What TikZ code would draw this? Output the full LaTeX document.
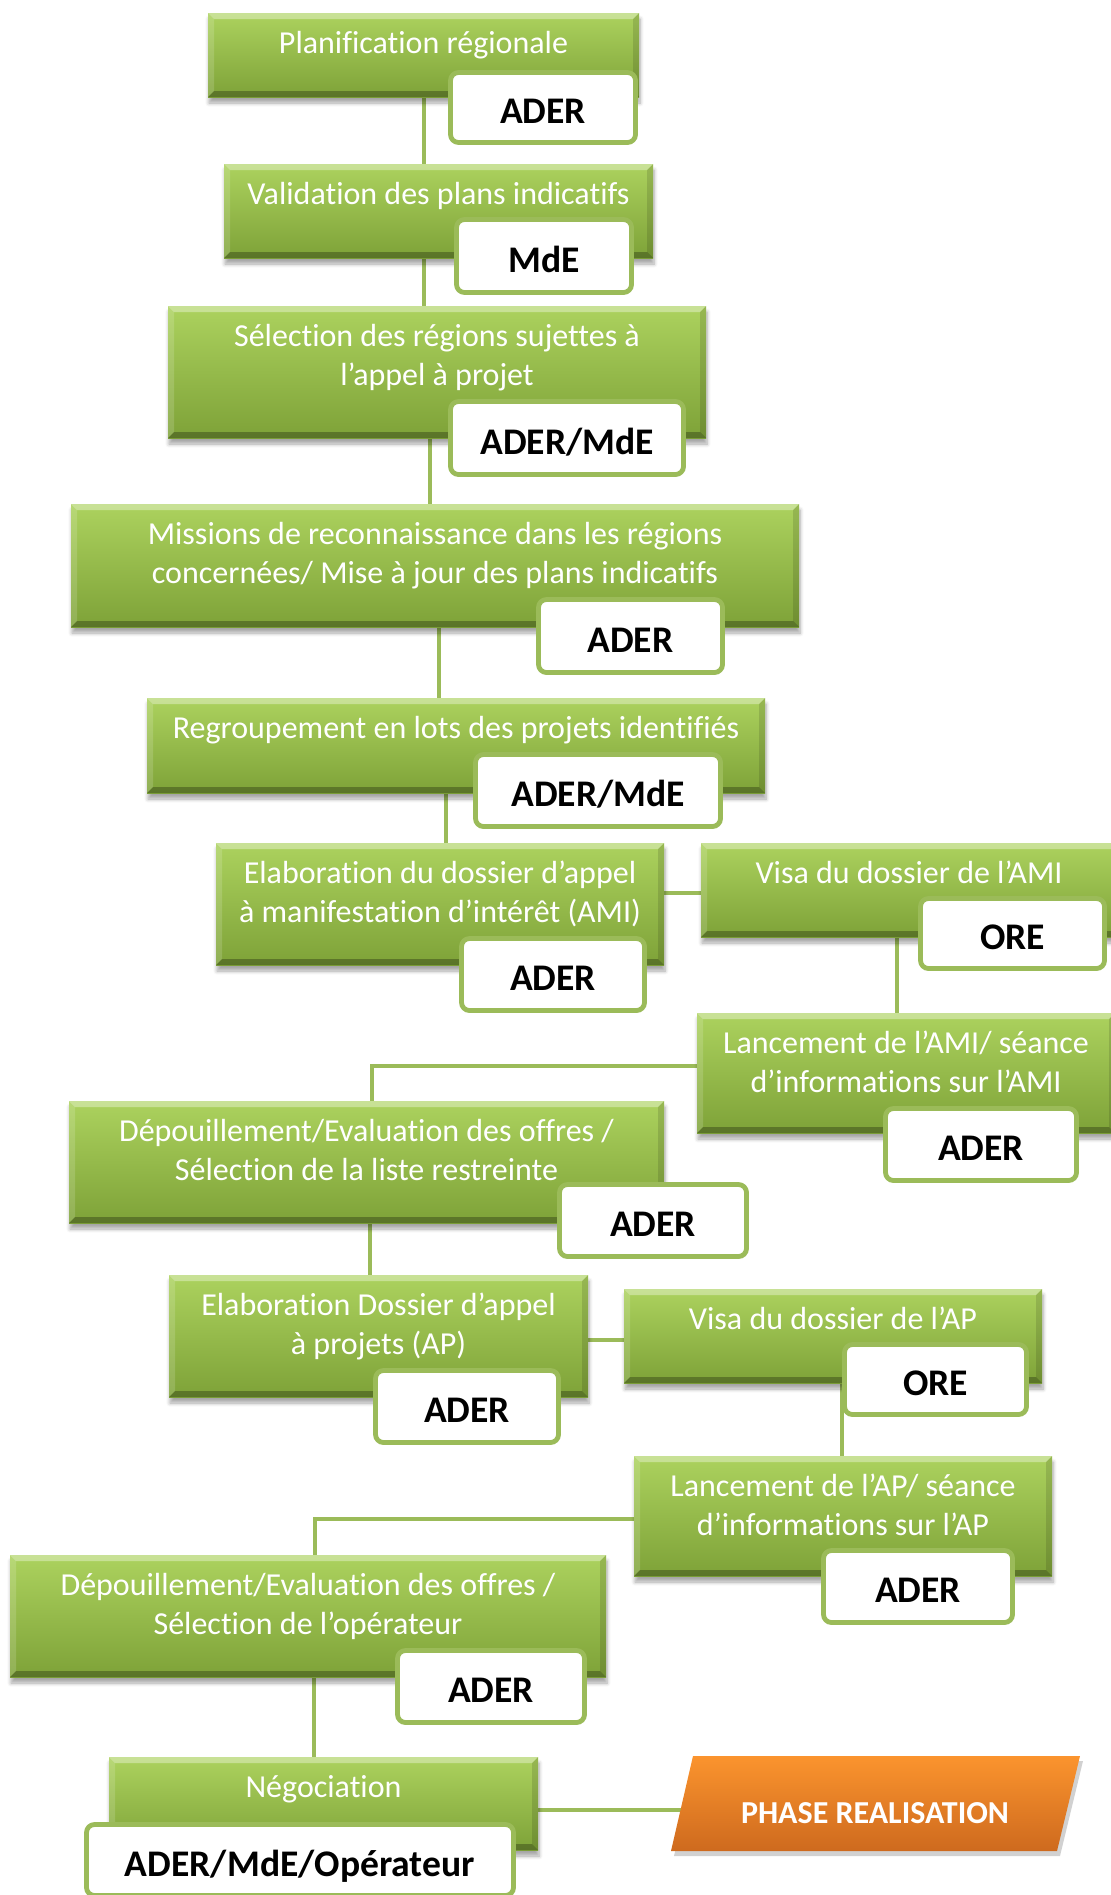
\documentclass[tikz,border=0pt]{standalone}
\usepackage{fontspec}
\setmainfont{Carlito}[Ligatures=NoCommon]
\usetikzlibrary{shadows.blur}
\definecolor{gtop}{RGB}{172,210,94}
\definecolor{gbot}{RGB}{126,162,56}
\definecolor{gline}{RGB}{155,187,89}
\definecolor{otop}{RGB}{251,148,46}
\definecolor{obot}{RGB}{206,106,30}
\pgfdeclarelayer{bg}
\pgfsetlayers{bg,main}
\tikzset{
 gbevel/.style={path picture={
  \path (path picture bounding box.north west) coordinate (pnw)
        (path picture bounding box.north east) coordinate (pne)
        (path picture bounding box.south west) coordinate (psw)
        (path picture bounding box.south east) coordinate (pse);
  \fill[white,opacity=0.35] (pnw) -- (pne) -- ([shift={(-3pt,-3pt)}]pne) -- ([shift={(3pt,-3pt)}]pnw) -- cycle;
  \fill[white,opacity=0.15] (pnw) -- ([shift={(3pt,-3pt)}]pnw) -- ([shift={(3pt,3pt)}]psw) -- (psw) -- cycle;
  \fill[black,opacity=0.12] (pne) -- ([shift={(-3pt,-3pt)}]pne) -- ([shift={(-3pt,3pt)}]pse) -- (pse) -- cycle;
  \fill[black,opacity=0.28] (psw) -- ([shift={(3pt,3pt)}]psw) -- ([shift={(-3pt,3pt)}]pse) -- (pse) -- cycle;
 }},
 gbox/.style={rectangle, inner sep=0pt, outer sep=0pt, top color=gtop, bottom color=gbot,
   blur shadow={shadow xshift=0.5pt, shadow yshift=-3pt, shadow blur steps=6, shadow opacity=35}, gbevel},
 gtext/.style={anchor=north, inner sep=0pt, align=center, text=white, font=\fontsize{16}{19.5}\selectfont},
 lab/.style={rectangle, rounded corners=4pt, draw=gline, line width=2.4pt, fill=white, inner sep=0pt,
   text height=16pt, text depth=0pt, font=\fontsize{18.8}{22}\selectfont\bfseries},
 conn/.style={draw=gline, line width=2pt}
}
\newcommand\GB[6]{%
  \node[gbox, minimum width={#4*0.5pt}, minimum height={#5*0.5pt}] (#1) at (#2,#3) {};
  \node[gtext] (#1t) at ([yshift=-6.4pt]#1.north) {#6};}
\newcommand\LB[6]{%
  \node[lab, minimum width={(#4-5)*0.5pt}, minimum height={(#5-5)*0.5pt}] (#1) at (#2,#3) {#6};}
\begin{document}
\begin{tikzpicture}[x=0.5pt,y=-0.5pt]
\useasboundingbox (0,0) rectangle (1111,1895);
\clip (0,0) rectangle (1111,1895);

\GB{b1}{423.5}{55}{431}{84}{\strut Planification régionale}
\GB{b2}{438.5}{211}{429}{94}{\strut Validation des plans indicatifs}
\GB{b3}{437}{372}{538}{132}{\strut Sélection des régions sujettes à\\\strut l’appel à projet}
\GB{b4}{435}{565.5}{728}{123}{\strut Missions de reconnaissance dans les régions\\\strut concernées/ Mise à jour des plans indicatifs}
\GB{b5}{456}{745.5}{618}{95}{\strut Regroupement en lots des projets identifiés}
\GB{b6}{440}{904}{448}{122}{\strut Elaboration du dossier d’appel\\\strut à manifestation d’intérêt (AMI)}
\GB{b7}{909}{890}{416}{94}{\strut Visa du dossier de l’AMI}
\GB{b8}{906}{1073}{418}{120}{\strut Lancement de l’AMI/ séance\\\strut d’informations sur l’AMI}
\GB{b9}{366.5}{1162}{595}{122}{\strut Dépouillement/Evaluation des offres /\\\strut Sélection de la liste restreinte}
\GB{b10}{378.5}{1336}{419}{122}{\strut Elaboration Dossier d’appel\\\strut à projets (AP)}
\GB{b11}{833}{1336}{418}{94}{\strut Visa du dossier de l’AP}
\GB{b12}{843}{1516}{418}{120}{\strut Lancement de l’AP/ séance\\\strut d’informations sur l’AP}
\GB{b13}{308}{1616}{596}{122}{\strut Dépouillement/Evaluation des offres /\\\strut Sélection de l’opérateur}
\GB{b14}{323.5}{1803.5}{429}{93}{\strut Négociation}

% phase realisation
\fill[black,opacity=0.18] (696,1761) -- (1083,1761) -- (1060,1856) -- (674,1856) -- cycle;
\shade[top color=otop, bottom color=obot] (693,1756) -- (1080,1756) -- (1057,1851) -- (671,1851) -- cycle;
\node[text=white, font=\fontsize{16}{19}\selectfont\bfseries] (phase) at (875,1813) {PHASE REALISATION};
\coordinate (phaseL) at (682,1810);

\LB{l1}{543}{107.5}{190}{75}{ADER}
\LB{l2}{544}{256}{180}{78}{MdE}
\LB{l3}{567}{438}{238}{78}{ADER/MdE}
\LB{l4}{630.5}{636}{189}{78}{ADER}
\LB{l5}{598}{790.5}{250}{77}{ADER/MdE}
\LB{l6}{553}{974.5}{188}{77}{ADER}
\LB{l7}{1012.5}{933.5}{189}{75}{ORE}
\LB{l8}{981}{1144.5}{196}{77}{ADER}
\LB{l9}{653}{1220.5}{192}{77}{ADER}
\LB{l10}{467}{1406.5}{188}{77}{ADER}
\LB{l11}{935.5}{1379.5}{187}{75}{ORE}
\LB{l12}{918}{1586.5}{194}{77}{ADER}
\LB{l13}{491}{1686.5}{192}{77}{ADER}
\LB{l14}{300}{1860}{432}{76}{ADER/MdE/Opérateur}

\coordinate (k2) at (424,0);
\coordinate (k3) at (430,0);
\coordinate (k4) at (439,0);
\coordinate (k5) at (446,0);
\coordinate (k6) at (0,893);
\coordinate (k7) at (897,0);
\coordinate (k8) at (372,1066);
\coordinate (k9) at (370,0);
\coordinate (k10) at (0,1340);
\coordinate (k11) at (842,0);
\coordinate (k12) at (315,1519);
\coordinate (k13) at (314,0);
\coordinate (k14) at (0,1810);

\begin{pgfonlayer}{bg}
\draw[conn] (b1.south) -- (b1.south |- b2.north);
\draw[conn] (k2 |- b2.south) -- (k2 |- b3.north);
\draw[conn] (k3 |- b3.south) -- (k3 |- b4.north);
\draw[conn] (k4 |- b4.south) -- (k4 |- b5.north);
\draw[conn] (k5 |- b5.south) -- (k5 |- b6.north);
\draw[conn] (b6.east |- k6) -- (b7.west |- k6);
\draw[conn] (k7 |- b7.south) -- (k7 |- b8.north);
\draw[conn] (b8.west |- k8) -- (k8) -- (k8 |- b9.north);
\draw[conn] (k9 |- b9.south) -- (k9 |- b10.north);
\draw[conn] (b10.east |- k10) -- (b11.west |- k10);
\draw[conn] (k11 |- b11.south) -- (k11 |- b12.north);
\draw[conn] (b12.west |- k12) -- (k12) -- (k12 |- b13.north);
\draw[conn] (k13 |- b13.south) -- (k13 |- b14.north);
\draw[conn] (b14.east |- k14) -- (phaseL);
\end{pgfonlayer}
\end{tikzpicture}
\end{document}
